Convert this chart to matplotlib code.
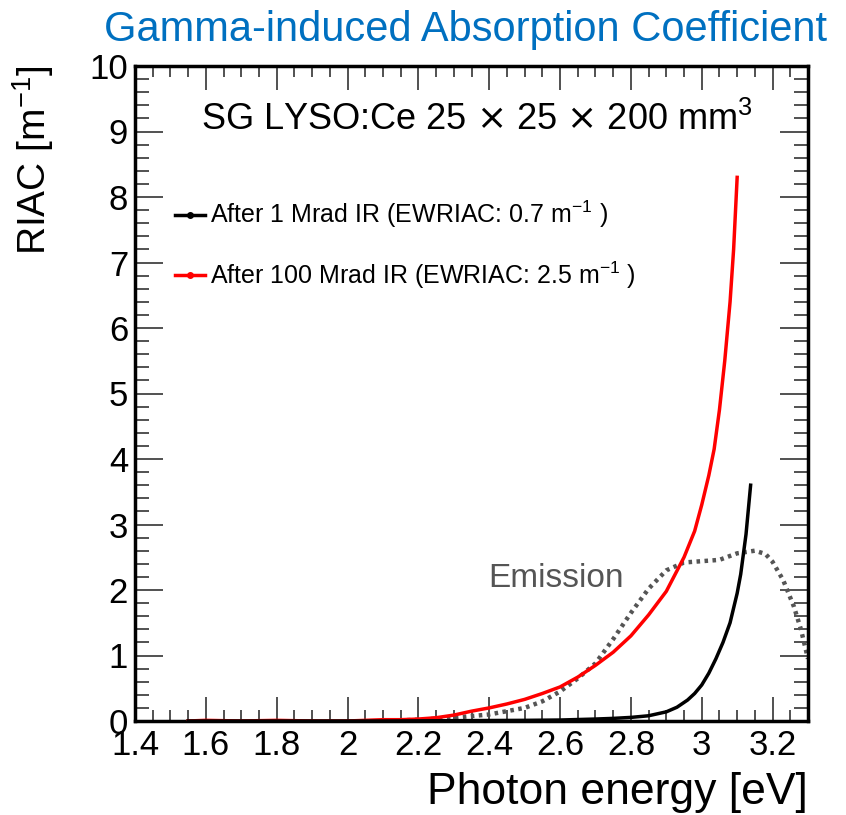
import matplotlib
matplotlib.use("Agg")
import matplotlib.pyplot as plt
from matplotlib.ticker import MultipleLocator, FixedLocator

plt.rcParams['font.family'] = ['Liberation Sans', 'DejaVu Sans']

# Data
e_1mrad = [1.55, 1.7, 1.9, 2.1, 2.3, 2.5, 2.6, 2.7, 2.75, 2.8, 2.85, 2.9, 2.93, 2.96,
           2.98, 3.0, 3.02, 3.04, 3.06, 3.08, 3.1, 3.11, 3.125, 3.138]
riac_1mrad = [0.0, 0.0, 0.0, 0.0, 0.005, 0.01, 0.015, 0.03, 0.04, 0.055, 0.08, 0.14, 0.21, 0.32,
              0.42, 0.55, 0.73, 0.95, 1.2, 1.5, 1.95, 2.24, 2.85, 3.6]

e_100mrad = [1.55, 1.6, 1.7, 1.8, 1.9, 2.0, 2.05, 2.1, 2.15, 2.2, 2.25, 2.3, 2.35, 2.4, 2.45,
             2.5, 2.55, 2.6, 2.65, 2.7, 2.75, 2.8, 2.85, 2.9, 2.95, 2.98, 3.0, 3.02, 3.035,
             3.05, 3.065, 3.08, 3.09, 3.1]
riac_100mrad = [0.0, 0.01, 0.0, 0.01, 0.0, 0.0, 0.01, 0.02, 0.02, 0.03, 0.05, 0.09, 0.15, 0.2,
                0.26, 0.33, 0.42, 0.52, 0.67, 0.85, 1.05, 1.3, 1.62, 1.98, 2.5, 2.9, 3.3, 3.75,
                4.15, 4.75, 5.5, 6.4, 7.2, 8.3]

e_emis = [2.1, 2.2, 2.3, 2.4, 2.5, 2.55, 2.6, 2.65, 2.7, 2.75, 2.8, 2.85, 2.9, 2.95, 3.0,
          3.05, 3.1, 3.15, 3.18, 3.2, 3.23, 3.26, 3.28, 3.3]
emis = [0.0, 0.02, 0.05, 0.1, 0.2, 0.3, 0.45, 0.65, 0.88, 1.25, 1.65, 2.02, 2.3, 2.42, 2.44,
        2.46, 2.56, 2.6, 2.55, 2.43, 2.15, 1.75, 1.4, 0.95]

x_ticks = [1.4, 1.6, 1.8, 2.0, 2.2, 2.4, 2.6, 2.8, 3.0, 3.2]
x_ticklabels = ["1.4", "1.6", "1.8", "2", "2.2", "2.4", "2.6", "2.8", "3", "3.2"]
y_ticks = list(range(0, 11))

fig = plt.figure(figsize=(8.46, 8.15), dpi=100)
ax = fig.add_axes([135/846, 1-721/815, (808-135)/846, (721-66)/815])

ax.plot(e_emis, emis, color='#555555', lw=3.2, ls=(0, (0.8, 1.0)), zorder=2)
ax.plot(e_100mrad, riac_100mrad, color='#ff0000', lw=2.5, zorder=3)
ax.plot(e_1mrad, riac_1mrad, color='black', lw=2.5, zorder=4)

ax.set_xlim(1.4, 3.3)
ax.set_ylim(0, 10)

ax.xaxis.set_major_locator(FixedLocator(x_ticks))
ax.set_xticklabels(x_ticklabels)
ax.xaxis.set_minor_locator(MultipleLocator(0.05))
ax.yaxis.set_major_locator(FixedLocator(y_ticks))
ax.yaxis.set_minor_locator(MultipleLocator(0.2))

ax.tick_params(which='both', direction='in', top=True, right=True, width=1.2, color='#333333')
ax.tick_params(axis='x', which='major', length=17, labelsize=25, pad=6)
ax.tick_params(axis='x', which='minor', length=8)
ax.tick_params(axis='y', which='major', length=20, labelsize=25, pad=5)
ax.tick_params(axis='y', which='minor', length=10)
for s in ax.spines.values():
    s.set_linewidth(2.5)

ax.set_xlabel("Photon energy [eV]", fontsize=32, loc='right', labelpad=7)
ax.set_ylabel(r"RIAC [m$^{\mathregular{-1}}$]", fontsize=28, loc='top', labelpad=24)

fig.text(0.55, 0.963, "Gamma-induced Absorption Coefficient", color='#0070c0',
         fontsize=30, ha='center', va='center')

ax.text(0.508, 0.918, r"SG LYSO:Ce 25 $\times$ 25 $\times$ 200 mm$^{\mathregular{3}}$",
        transform=ax.transAxes, fontsize=26, ha='center', va='center')

# Legend (manual, ROOT style)
leg_items = [("black", r"After 1 Mrad IR (EWRIAC: 0.7 m$^{\mathregular{-1}}$ )", 0.773),
             ("#ff0000", r"After 100 Mrad IR (EWRIAC: 2.5 m$^{\mathregular{-1}}$ )", 0.681)]
for col, lab, yy in leg_items:
    ax.plot([0.059, 0.104], [yy, yy], transform=ax.transAxes, color=col, lw=2.5,
            clip_on=False)
    ax.plot([0.0815], [yy], transform=ax.transAxes, color=col, marker='o', markersize=4)
    ax.text(0.111, yy, lab, transform=ax.transAxes, fontsize=18, ha='left', va='center')

ax.text(0.626, 0.218, "Emission", transform=ax.transAxes, fontsize=24,
        color='#555555', ha='center', va='center')

fig.savefig("out.png", dpi=100)
